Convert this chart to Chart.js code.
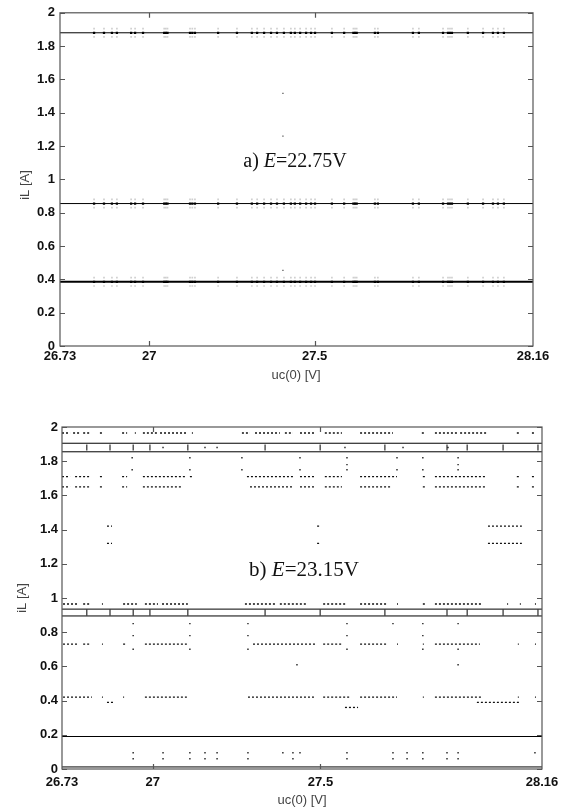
<!DOCTYPE html>
<html>
<head>
<meta charset="utf-8">
<script src="https://cdn.jsdelivr.net/npm/chart.js@4"></script>
<style>
html, body { margin: 0; padding: 0; background: #fff; }
#wrap { position: relative; width: 565px; height: 811px; }
canvas { position: absolute; left: 0; }
#chartA { top: 0; }
#chartB { top: 400px; }
</style>
</head>
<body>
<div id="wrap">
    <canvas id="chartA" width="565" height="400"></canvas>
    <canvas id="chartB" width="565" height="411"></canvas>
</div>
<script>
// axis
const xMin = 26.73;
const xMax = 28.16;
const xTicks = [26.73, 27, 27.5, 28.16];

// panel a) E=22.75V
const aLines = [1.88, 0.855, 0.385];
const aMarkX = [26.833, 26.863, 26.887, 26.902, 26.945, 26.957, 26.981, 27.045, 27.050, 27.055,
    27.123, 27.130, 27.138, 27.208, 27.265, 27.310, 27.326, 27.347, 27.368, 27.386, 27.407,
    27.428, 27.440, 27.456, 27.474, 27.489, 27.501, 27.552, 27.589, 27.617, 27.622, 27.627,
    27.682, 27.691, 27.797, 27.815, 27.888, 27.903, 27.909, 27.915, 27.963, 28.009, 28.039,
    28.054, 28.072];
const aHaloY = [1.905, 1.855, 0.88, 0.83, 0.41, 0.36];
const aStrayX = [27.404, 27.404, 27.404];
const aStrayY = [1.516, 1.26, 0.454];

// panel b) E=23.15V
const bLines = [1.905, 1.855, 0.935, 0.895, 0.19, 0.012];
const bRowY = [1.965, 1.71, 1.65, 1.42, 1.32, 0.965, 0.73, 0.42, 0.39, 0.36];
const bRowSegs = [
    [[26.730, 26.754], [26.763, 26.784], [26.793, 26.813], [26.843, 26.852], [26.909, 26.924], [26.947, 26.950],
     [26.971, 27.013], [27.022, 27.102], [27.117, 27.120], [27.266, 27.290], [27.305, 27.379], [27.394, 27.418],
     [27.439, 27.484], [27.513, 27.564], [27.618, 27.716], [27.802, 27.811], [27.841, 27.907], [27.916, 27.996],
     [28.085, 28.094], [28.130, 28.139]],
    [[26.730, 26.754], [26.769, 26.813], [26.843, 26.852], [26.909, 26.924], [26.971, 27.102], [27.111, 27.117],
     [27.281, 27.418], [27.439, 27.484], [27.513, 27.564], [27.618, 27.728], [27.805, 27.811], [27.841, 27.990],
     [28.085, 28.094], [28.130, 28.139]],
    [[26.730, 26.754], [26.769, 26.813], [26.843, 26.852], [26.909, 26.924], [26.971, 27.090], [27.290, 27.418],
     [27.439, 27.484], [27.513, 27.564], [27.618, 27.710], [27.805, 27.811], [27.841, 27.990], [28.085, 28.094],
     [28.130, 28.139]],
    [[26.864, 26.879], [27.490, 27.499], [27.999, 28.100]],
    [[26.864, 26.879], [27.490, 27.499], [27.999, 28.100]],
    [[26.733, 26.778], [26.793, 26.813], [26.849, 26.852], [26.912, 26.953], [26.977, 27.016], [27.028, 27.105],
     [27.275, 27.370], [27.379, 27.460], [27.508, 27.579], [27.618, 27.698], [27.728, 27.731], [27.805, 27.817],
     [27.841, 27.984], [28.056, 28.059], [28.094, 28.097], [28.139, 28.142]],
    [[26.733, 26.778], [26.793, 26.813], [26.849, 26.852], [26.912, 26.924], [26.977, 27.102], [27.299, 27.484],
     [27.508, 27.567], [27.618, 27.698], [27.728, 27.731], [27.805, 27.808], [27.841, 27.975], [28.088, 28.091],
     [28.139, 28.142]],
    [[26.733, 26.819], [26.849, 26.852], [26.912, 26.915], [26.977, 27.102], [27.284, 27.484], [27.508, 27.588],
     [27.618, 27.728], [27.805, 27.808], [27.841, 27.984], [28.088, 28.091], [28.139, 28.142]],
    [[26.864, 26.882], [27.966, 28.094]],
    [[27.573, 27.612]]
];
const bCrossX = [26.804, 26.873, 26.942, 26.992, 27.105, 27.335, 27.499, 27.692, 27.877, 27.937, 28.044, 28.148];
const bCrossY = [1.88, 0.915];
const bDotY = [1.82, 1.78, 1.75, 1.88, 0.85, 0.78, 0.70, 0.61, 0.095, 0.06];
const bDotX = [
    [26.939, 27.111, 27.266, 27.439, 27.579, 27.728, 27.805, 27.910],
    [27.579, 27.910],
    [26.939, 27.111, 27.266, 27.439, 27.579, 27.728, 27.805, 27.910],
    [27.031, 27.156, 27.192, 27.573, 27.746, 27.880],
    [26.942, 27.111, 27.284, 27.579, 27.716, 27.805, 27.910],
    [26.942, 27.111, 27.284, 27.579, 27.805],
    [26.942, 27.111, 27.284, 27.579, 27.805, 27.910],
    [27.430, 27.910],
    [26.942, 27.031, 27.111, 27.156, 27.192, 27.284, 27.388, 27.418, 27.439, 27.579, 27.716, 27.758, 27.805, 27.877, 27.910, 28.139],
    [26.942, 27.031, 27.111, 27.156, 27.192, 27.284, 27.418, 27.579, 27.716, 27.758, 27.805, 27.877, 27.910]
];

const sans = '"Liberation Sans", Arial, sans-serif';
const serif = '"Liberation Serif", "Times New Roman", serif';

const levelLine = (y, width) => ({
    data: [{ x: xMin, y: y }, { x: xMax, y: y }],
    showLine: true,
    borderColor: "#000",
    borderWidth: width || 1,
    pointRadius: 0
});

const dots = (points, color, radius, style) => ({
    data: points,
    showLine: false,
    pointStyle: style || "rect",
    pointRadius: radius,
    backgroundColor: color,
    borderColor: color,
    borderWidth: 0
});

const getPanelADatasets = () => {
    const sets = [];
    const halo = [];
    aHaloY.forEach(y => aMarkX.forEach(x => halo.push({ x, y })));
    sets.push(dots(halo, "#cfcfcf", 1.2));
    sets.push(levelLine(aLines[0]));
    sets.push(levelLine(aLines[1]));
    sets.push(levelLine(aLines[2], 2));
    const marks = [];
    aLines.forEach(y => aMarkX.forEach(x => marks.push({ x, y })));
    sets.push(dots(marks, "#000", 1.6));
    sets.push(dots(aStrayX.map((x, i) => ({ x, y: aStrayY[i] })), "#555", 0.9));
    return sets;
}

const getPanelBDatasets = () => {
    const sets = bLines.map(y => levelLine(y));
    bRowY.forEach((y, i) => {
        const data = [];
        for (const [x0, x1] of bRowSegs[i]) {
            data.push({ x: x0, y }, { x: x1, y }, { x: x1, y: null });
        }
        sets.push({
            data,
            showLine: true,
            spanGaps: false,
            borderColor: "#111",
            borderWidth: 1.3,
            borderDash: [2, 2],
            pointRadius: 0
        });
    });
    const cross = [];
    bCrossY.forEach(y => bCrossX.forEach(x => cross.push({ x, y })));
    sets.push({ ...dots(cross, "#000", 3, "line"), rotation: 90, borderWidth: 1 });
    const pts = [];
    bDotY.forEach((y, i) => bDotX[i].forEach(x => pts.push({ x, y })));
    sets.push(dots(pts, "#222", 1));
    return sets;
}

const drawNote = (ctx, parts, cx, cy, size) => {
    const fonts = parts.map(([, italic]) => (italic ? "italic " : "") + size + "px " + serif);
    const widths = parts.map(([text], i) => { ctx.font = fonts[i]; return ctx.measureText(text).width; });
    let x = cx - widths.reduce((a, b) => a + b, 0) / 2;
    ctx.fillStyle = "#111";
    ctx.textBaseline = "middle";
    ctx.textAlign = "left";
    parts.forEach(([text], i) => {
        ctx.font = fonts[i];
        ctx.fillText(text, x, cy);
        x += widths[i];
    });
}

const framePlugin = {
    id: "frame",
    afterDraw(chart, args, opts) {
        const { ctx, chartArea: a, scales: { x, y } } = chart;
        ctx.save();
        ctx.strokeStyle = "#555";
        ctx.lineWidth = 1.2;
        ctx.strokeRect(a.left, a.top, a.right - a.left, a.bottom - a.top);

        // inward ticks on all four sides
        ctx.beginPath();
        for (const t of y.ticks) {
            const py = Math.round(y.getPixelForValue(t.value)) + 0.5;
            ctx.moveTo(a.left, py); ctx.lineTo(a.left + 5, py);
            ctx.moveTo(a.right, py); ctx.lineTo(a.right - 5, py);
        }
        for (const v of xTicks.slice(1, -1)) {
            const px = Math.round(x.getPixelForValue(v)) + 0.5;
            ctx.moveTo(px, a.top); ctx.lineTo(px, a.top + 5);
            ctx.moveTo(px, a.bottom); ctx.lineTo(px, a.bottom - 5);
        }
        ctx.stroke();

        // axis titles
        ctx.fillStyle = "#444";
        ctx.font = "13px " + sans;
        ctx.textAlign = "center";
        ctx.textBaseline = "middle";
        ctx.fillText("uc(0) [V]", opts.xTitle[0], opts.xTitle[1]);
        ctx.save();
        ctx.translate(opts.yTitle[0], opts.yTitle[1]);
        ctx.rotate(-Math.PI / 2);
        ctx.fillText("iL [A]", 0, 0);
        ctx.restore();

        drawNote(ctx, opts.note, opts.notePos[0], opts.notePos[1], opts.noteSize);
        ctx.restore();
    }
};

const makeChart = (canvasId, datasets, layout) => {
    return new Chart(document.getElementById(canvasId), {
        type: "scatter",
        data: { datasets },
        options: {
            responsive: false,
            animation: false,
            layout: { padding: { top: layout.top, right: layout.right, left: 0, bottom: 0 } },
            plugins: {
                legend: { display: false },
                tooltip: { enabled: false },
                frame: layout.frame
            },
            scales: {
                x: {
                    type: "linear",
                    min: xMin,
                    max: xMax,
                    grid: { display: false, drawTicks: false },
                    border: { display: false },
                    afterBuildTicks: scale => { scale.ticks = xTicks.map(value => ({ value })); },
                    afterFit: scale => { scale.height = layout.xHeight; },
                    ticks: {
                        autoSkip: false,
                        maxRotation: 0,
                        padding: layout.xPad,
                        color: "#111",
                        font: { family: sans, size: 13, weight: "bold" },
                        callback: v => String(v)
                    }
                },
                y: {
                    min: 0,
                    max: 2,
                    grid: { display: false, drawTicks: false },
                    border: { display: false },
                    afterFit: scale => { scale.width = layout.yWidth; },
                    ticks: {
                        stepSize: 0.2,
                        padding: layout.yPad,
                        color: "#111",
                        font: { family: sans, size: 13, weight: "bold" },
                        callback: v => String(Number(v.toFixed(1)))
                    }
                }
            }
        },
        plugins: [framePlugin]
    });
}

makeChart("chartA", getPanelADatasets(), {
    top: 11, right: 32, xHeight: 54, yWidth: 60, xPad: 3, yPad: 5,
    frame: {
        xTitle: [296, 375], yTitle: [25, 185],
        note: [["a) ", false], ["E", true], ["=22.75V", false]],
        notePos: [295, 162], noteSize: 20
    }
});

makeChart("chartB", getPanelBDatasets(), {
    top: 27, right: 23, xHeight: 42, yWidth: 62, xPad: 6, yPad: 4,
    frame: {
        xTitle: [302, 400], yTitle: [22, 198],
        note: [["b) ", false], ["E", true], ["=23.15V", false]],
        notePos: [304, 170], noteSize: 21
    }
});
</script>
</body>
</html>
